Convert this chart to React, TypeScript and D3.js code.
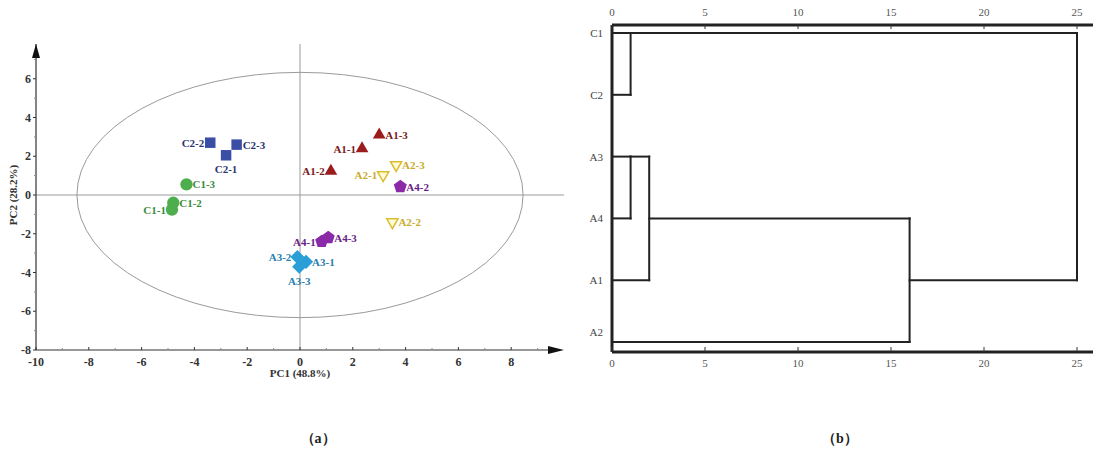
import * as d3 from "d3";

// PCA scores
const c2Names = ["C2-1", "C2-2", "C2-3"];
const c2X = [-2.8, -3.4, -2.4];
const c2Y = [2.05, 2.7, 2.6];

const c1Names = ["C1-1", "C1-2", "C1-3"];
const c1X = [-4.85, -4.8, -4.3];
const c1Y = [-0.75, -0.4, 0.55];

const a1Names = ["A1-1", "A1-2", "A1-3"];
const a1X = [2.35, 1.17, 3.0];
const a1Y = [2.4, 1.24, 3.1];

const a2Names = ["A2-1", "A2-2", "A2-3"];
const a2X = [3.15, 3.5, 3.64];
const a2Y = [1.03, -1.4, 1.55];

const a4Names = ["A4-1", "A4-2", "A4-3"];
const a4X = [0.82, 3.8, 1.07];
const a4Y = [-2.4, 0.43, -2.2];

const a3Names = ["A3-1", "A3-2", "A3-3"];
const a3X = [0.23, -0.1, -0.03];
const a3Y = [-3.45, -3.2, -3.7];

const xTicks = [-10, -8, -6, -4, -2, 0, 2, 4, 6, 8];
const yTicks = [-8, -6, -4, -2, 0, 2, 4, 6];

// label side per point: r = right, l = left, b = below
const labelSide: Record<string, string> = {
  "C2-1": "b", "C2-2": "l", "C2-3": "r",
  "C1-1": "l", "C1-2": "r", "C1-3": "r",
  "A1-1": "l", "A1-2": "l", "A1-3": "r",
  "A2-1": "l", "A2-2": "r", "A2-3": "r",
  "A4-1": "l", "A4-2": "r", "A4-3": "r",
  "A3-1": "r", "A3-2": "l", "A3-3": "b",
};

// dendrogram (panel b)
const leaves = ["C1", "C2", "A3", "A4", "A1", "A2"];
const mergeA = ["C1", "A3", "A3A4", "A3A4A1", "C1C2"];
const mergeB = ["C2", "A4", "A1", "A2", "A3A4A1A2"];
const mergeH = [1, 1, 2, 16, 25];
const dTicks = [0, 5, 10, 15, 20, 25];

const serif = "Liberation Serif, DejaVu Serif, serif";

const pentagon = {
  draw(ctx: any, size: number) {
    const r = Math.sqrt(size / 2.38);
    for (let i = 0; i < 5; i++) {
      const a = -Math.PI / 2 + (i * 2 * Math.PI) / 5;
      const px = r * Math.cos(a), py = r * Math.sin(a);
      if (i === 0) ctx.moveTo(px, py); else ctx.lineTo(px, py);
    }
    ctx.closePath();
  },
};

export default function App() {
  // ----- panel a -----
  const x = d3.scaleLinear().domain([-10, 10]).range([36, 564]);
  const y = d3.scaleLinear().domain([-8, 8]).range([350, 40]);

  const groups = [
    { names: c2Names, xs: c2X, ys: c2Y, sym: d3.symbolSquare, size: 110, fill: "#3a4ea6", stroke: "none", text: "#2c3570", rot: 0 },
    { names: c1Names, xs: c1X, ys: c1Y, sym: d3.symbolCircle, size: 120, fill: "#4eae4e", stroke: "none", text: "#3c8c3c", rot: 0 },
    { names: a1Names, xs: a1X, ys: a1Y, sym: d3.symbolTriangle, size: 70, fill: "#9a1c1c", stroke: "none", text: "#7a1a1a", rot: 0 },
    { names: a2Names, xs: a2X, ys: a2Y, sym: d3.symbolTriangle, size: 55, fill: "#fffbd8", stroke: "#d9bd2e", text: "#c9ab2a", rot: 180 },
    { names: a4Names, xs: a4X, ys: a4Y, sym: pentagon, size: 110, fill: "#8a2aa8", stroke: "none", text: "#6a1e86", rot: 0 },
    { names: a3Names, xs: a3X, ys: a3Y, sym: d3.symbolSquare, size: 100, fill: "#2a9ed6", stroke: "none", text: "#2b7fae", rot: 45 },
  ];

  const minor = d3.range(-9, 10, 2);
  const minorY = d3.range(-7, 8, 2);

  // ----- panel b -----
  const dx = d3.scaleLinear().domain([0, 25]).range([612, 1077]);
  const dy = d3.scalePoint().domain(leaves).range([33, 342]);
  const clusters: Record<string, { row: number; h: number; leaf: boolean }> = {};
  leaves.forEach((l) => (clusters[l] = { row: dy(l) as number, h: 0, leaf: true }));
  const segs: { x1: number; y1: number; x2: number; y2: number }[] = [];
  mergeA.forEach((a, i) => {
    const b = mergeB[i];
    const h = mergeH[i];
    const ca = clusters[a], cb = clusters[b];
    segs.push({ x1: dx(ca.h), y1: ca.row, x2: dx(h), y2: ca.row });
    segs.push({ x1: dx(cb.h), y1: cb.row, x2: dx(h), y2: cb.row });
    segs.push({ x1: dx(h), y1: ca.row, x2: dx(h), y2: cb.row });
    const row = ca.leaf && cb.leaf ? ca.row : (ca.row + cb.row) / 2;
    clusters[a + b] = { row, h, leaf: false };
  });

  const axisColor = "#333";

  return (
    <svg width={1093} height={450} style={{ position: "absolute", left: 0, top: 0, background: "#fff", fontFamily: serif }}>
      {/* ellipse */}
      <ellipse cx={x(0)} cy={y(0)} rx={x(8.45) - x(0)} ry={y(0) - y(6.33)} fill="none" stroke="#9a9a9a" strokeWidth={1} />
      {/* reference lines */}
      <line x1={x(-10)} x2={x(10)} y1={y(0)} y2={y(0)} stroke="#9a9a9a" strokeWidth={1} />
      <line x1={x(0)} x2={x(0)} y1={y(7.8)} y2={y(-8)} stroke="#9a9a9a" strokeWidth={1} />

      {/* axes */}
      <line x1={x(-10)} x2={x(10) - 4} y1={y(-8)} y2={y(-8)} stroke={axisColor} strokeWidth={1.2} />
      <path d={`M${x(10)},${y(-8)} L${x(10) - 16},${y(-8) - 4} L${x(10) - 16},${y(-8) + 4} Z`} fill="#111" />
      <line x1={x(-10)} x2={x(-10)} y1={y(-8)} y2={y(8) + 4} stroke={axisColor} strokeWidth={1.2} />
      <path d={`M${x(-10)},${y(8) + 4} L${x(-10) - 4},${y(8) + 18} L${x(-10) + 4},${y(8) + 18} Z`} fill="#111" />

      {xTicks.map((t) => (
        <g key={"xt" + t}>
          <line x1={x(t)} x2={x(t)} y1={y(-8)} y2={y(-8) - 3} stroke={axisColor} />
          <text x={x(t)} y={y(-8) + 16} textAnchor="middle" fontSize={12} fontWeight="bold" fill="#333">{t}</text>
        </g>
      ))}
      {minor.map((t) => (
        <line key={"xm" + t} x1={x(t)} x2={x(t)} y1={y(-8)} y2={y(-8) - 2} stroke="#888" />
      ))}
      {yTicks.map((t) => (
        <g key={"yt" + t}>
          <line x1={x(-10)} x2={x(-10) - 3} y1={y(t)} y2={y(t)} stroke={axisColor} />
          <text x={x(-10) - 5} y={y(t) + 4} textAnchor="end" fontSize={12} fontWeight="bold" fill="#333">{t}</text>
        </g>
      ))}
      {minorY.map((t) => (
        <line key={"ym" + t} x1={x(-10)} x2={x(-10) - 2} y1={y(t)} y2={y(t)} stroke="#888" />
      ))}

      <text x={x(0)} y={377} textAnchor="middle" fontSize={11} fontWeight="bold" fill="#333">PC1 (48.8%)</text>
      <text transform={`translate(17,${y(0)}) rotate(-90)`} textAnchor="middle" fontSize={11} fontWeight="bold" fill="#333">PC2 (28.2%)</text>
      <text x={318} y={443} textAnchor="middle" fontSize={14} fontWeight="bold" fill="#222">（a）</text>

      {/* points */}
      {groups.map((g) =>
        g.names.map((n, i) => {
          const px = x(g.xs[i]), py = y(g.ys[i]);
          const side = labelSide[n];
          const lx = side === "r" ? px + 6 : side === "l" ? px - 6 : px;
          const ly = side === "b" ? py + 18 : py + 4;
          const anchor = side === "r" ? "start" : side === "l" ? "end" : "middle";
          return (
            <g key={n}>
              <path
                d={d3.symbol().type(g.sym as any).size(g.size)() as string}
                transform={`translate(${px},${py}) rotate(${g.rot})`}
                fill={g.fill}
                stroke={g.stroke}
                strokeWidth={1.5}
              />
              <text x={lx} y={ly} textAnchor={anchor} fontSize={11} fontWeight="bold" fill={g.text}>{n}</text>
            </g>
          );
        })
      )}

      {/* ----- panel b ----- */}
      <line x1={dx(0)} x2={1093} y1={25} y2={25} stroke="#222" strokeWidth={3} />
      <line x1={dx(0)} x2={1093} y1={352} y2={352} stroke="#222" strokeWidth={3} />
      <line x1={dx(0)} x2={dx(0)} y1={25} y2={352} stroke="#222" strokeWidth={3} />
      {dTicks.map((t) => (
        <g key={"dt" + t}>
          <line x1={dx(t)} x2={dx(t)} y1={25} y2={29} stroke="#333" />
          <line x1={dx(t)} x2={dx(t)} y1={352} y2={347} stroke="#333" />
          <text x={dx(t)} y={16} textAnchor="middle" fontSize={11} fill="#555">{t}</text>
          <text x={dx(t)} y={367} textAnchor="middle" fontSize={11} fill="#555">{t}</text>
        </g>
      ))}
      {leaves.map((l) => (
        <text key={l} x={603} y={(l === "A2" ? 332 : (dy(l) as number)) + 4} textAnchor="end" fontSize={11} fill="#444">{l}</text>
      ))}
      {segs.map((s, i) => (
        <line key={"s" + i} x1={s.x1} y1={s.y1} x2={s.x2} y2={s.y2} stroke="#222" strokeWidth={2} strokeLinecap="square" />
      ))}
      <text x={840} y={443} textAnchor="middle" fontSize={14} fontWeight="bold" fill="#222">（b）</text>
    </svg>
  );
}
